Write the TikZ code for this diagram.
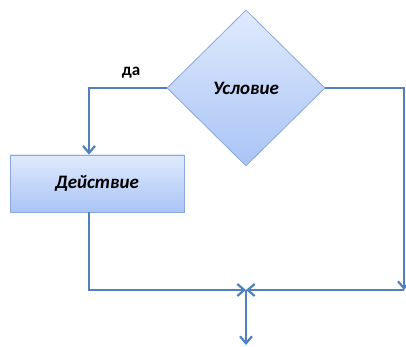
\documentclass[tikz,border=0pt]{standalone}
\usepackage{fontspec}
\setmainfont{Carlito}
\usetikzlibrary{shapes.geometric,arrows.meta,shadows}
\definecolor{linecol}{HTML}{4F81BD}
\definecolor{filltop}{HTML}{E0EAFC}
\definecolor{fillbot}{HTML}{A9C4F6}
\definecolor{edgecol}{HTML}{8AA8DC}
\tikzset{
  shapebox/.style={draw=edgecol, line width=0.8pt, top color=filltop, bottom color=fillbot,
    font=\bfseries\itshape\fontsize{19}{22}\selectfont, inner sep=0pt},
  conn/.style={draw=linecol, line width=2.7pt},
  tip/.style={-{Straight Barb[length=7pt,width=12pt,line width=2.2pt]}},
  lbl/.style={font=\bfseries\fontsize{17}{20}\selectfont}
}
\begin{document}
\begin{tikzpicture}[x=1pt,y=-1pt]
\useasboundingbox (0,0) rectangle (406,347);
\node[shapebox, diamond, minimum width=158pt, minimum height=156pt] (cond) at (246,88) {Условие};
\node[shapebox, rectangle, minimum width=174pt, minimum height=57pt,
  drop shadow={shadow xshift=1.2pt, shadow yshift=-1.2pt, opacity=0.25}] (act) at (97,183.5) {Действие};
\coordinate (tl) at (89,88);
\coordinate (tr) at (404,88);
\coordinate (br) at (404,290);
\coordinate (bl) at (89,290);
\coordinate (j) at (246,290);
\coordinate (out) at (246,345);
\node[lbl] (yes) at (131,73) {да};
\draw[conn, tip] (cond.west) -- (tl) -- (act.north -| tl);
\draw[conn, tip] (cond.east) -- (tr) -- (br);
\draw[conn, tip] (br) -- (j);
\draw[conn, tip] (act.south -| bl) -- (bl) -- (j);
\draw[conn, tip] (j) -- (out);
\end{tikzpicture}
\end{document}
